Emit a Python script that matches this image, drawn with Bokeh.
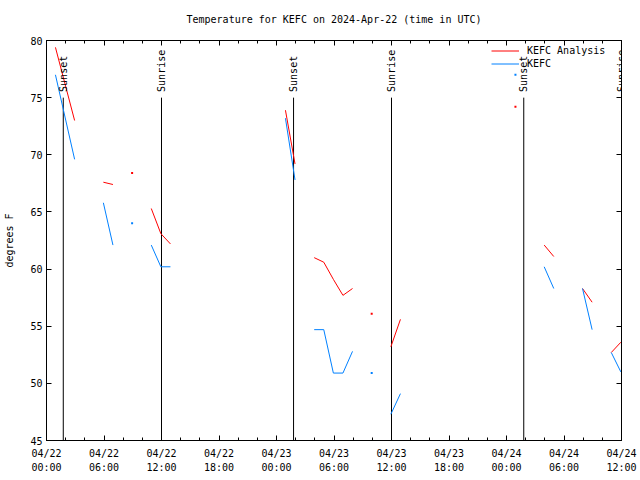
import math
from bokeh.plotting import figure
from bokeh.core.properties import value
from bokeh.models import (ColumnDataSource, FixedTicker, LinearAxis, Range1d,
                          Legend, LegendItem, LabelSet, CustomLabelingPolicy)
from bokeh.embed import file_html
from bokeh.resources import INLINE

nan = float("nan")

# ---- data -------------------------------------------------------------
# hourly observations (hours since 04/22 00:00 UTC), reported at hh:56
obs_hour = list(range(60))
obs_minute = 56

analysis_f = [
    79.4, 76.2, 73.0, nan, nan, 67.6, 67.4, nan, 68.4, nan,
    65.3, 63.1, 62.2, nan, nan, nan, nan, nan, nan, nan,
    nan, nan, nan, nan, 73.9, 69.2, nan, 61.0, 60.6, 59.1,
    57.7, 58.3, nan, 56.1, nan, 53.2, 55.6, nan, nan, nan,
    nan, nan, nan, nan, nan, nan, nan, nan, 74.2, nan,
    nan, 62.1, 61.1, nan, nan, 58.3, 57.1, nan, 52.7, 53.6,
]

kefc_f = [
    77.0, 73.3, 69.6, nan, nan, 65.8, 62.1, nan, 64.0, nan,
    62.1, 60.2, 60.2, nan, nan, nan, nan, nan, nan, nan,
    nan, nan, nan, nan, 73.2, 67.8, nan, 54.7, 54.7, 50.9,
    50.9, 52.8, nan, 50.9, nan, 47.3, 49.1, nan, nan, nan,
    nan, nan, nan, nan, nan, nan, nan, nan, 77.0, nan,
    nan, 60.2, 58.3, nan, nan, 58.3, 54.7, nan, 52.7, 51.0,
]

event_hours = [1.75, 12.0, 25.78, 36.0, 49.8, 60.0]
event_names = ["Sunset", "Sunrise", "Sunset", "Sunrise", "Sunset", "Sunrise"]

x_tick_hours = [0, 6, 12, 18, 24, 30, 36, 42, 48, 54, 60]
x_tick_labels = ["04/22\n00:00", "04/22\n06:00", "04/22\n12:00", "04/22\n18:00",
                 "04/23\n00:00", "04/23\n06:00", "04/23\n12:00", "04/23\n18:00",
                 "04/24\n00:00", "04/24\n06:00", "04/24\n12:00"]
x_minor_hours = list(range(0, 61, 2))
y_ticks = [45, 50, 55, 60, 65, 70, 75, 80]

# ---- build ------------------------------------------------------------
FONT = "DejaVu Sans Mono"
RED = "#ff0000"
BLUE = "#0080ff"

t = [h + obs_minute / 60.0 for h in obs_hour]


def isolated(vals):
    out_x, out_y = [], []
    n = len(vals)
    for i, v in enumerate(vals):
        if math.isnan(v):
            continue
        prev_nan = i == 0 or math.isnan(vals[i - 1])
        next_nan = i == n - 1 or math.isnan(vals[i + 1])
        if prev_nan and next_nan:
            out_x.append(t[i])
            out_y.append(v)
    return out_x, out_y


p = figure(width=640, height=480, output_backend="svg", toolbar_location=None,
           x_range=Range1d(0, 60), y_range=Range1d(45, 80),
           min_border_left=46, min_border_right=19,
           min_border_top=40, min_border_bottom=40,
           background_fill_color="white", border_fill_color="white")

p.title.text = "Temperature for KEFC on 2024-Apr-22 (time in UTC)"
p.title.text_font = FONT
p.title.text_font_size = "10px"
p.title.text_font_style = "normal"
p.title.text_color = "black"
p.title.align = "center"
p.title.standoff = 10

p.xgrid.visible = False
p.ygrid.visible = False
p.outline_line_color = "black"

xt = FixedTicker(ticks=x_tick_hours, minor_ticks=x_minor_hours)
yt = FixedTicker(ticks=y_ticks)


def style_axis(ax):
    ax.axis_line_color = "black"
    ax.major_tick_in = 5
    ax.major_tick_out = 0
    ax.minor_tick_in = 3
    ax.minor_tick_out = 0
    ax.major_tick_line_color = "black"
    ax.minor_tick_line_color = "black"
    ax.major_label_text_font = FONT
    ax.major_label_text_font_size = "10px"
    ax.major_label_text_color = "black"


p.xaxis.ticker = xt
p.xaxis.major_label_overrides = {h: lab for h, lab in zip(x_tick_hours, x_tick_labels)}
p.xaxis.major_label_standoff = 7
p.xaxis.major_label_text_line_height = 1.35
style_axis(p.xaxis[0])

p.yaxis.ticker = yt
p.yaxis.axis_label = "degrees F"
p.yaxis.axis_label_text_font = FONT
p.yaxis.axis_label_text_font_size = "10px"
p.yaxis.axis_label_text_font_style = "normal"
p.yaxis.axis_label_text_color = "black"
p.yaxis.axis_label_standoff = 12
p.yaxis.major_label_standoff = 4
style_axis(p.yaxis[0])
p.yaxis.minor_tick_line_color = None

no_labels = CustomLabelingPolicy(code="return new Set()")

top_ax = LinearAxis(ticker=FixedTicker(ticks=x_tick_hours, minor_ticks=x_minor_hours))
style_axis(top_ax)
top_ax.major_label_policy = no_labels
top_ax.major_label_standoff = 0
p.add_layout(top_ax, "above")

right_ax = LinearAxis(ticker=FixedTicker(ticks=y_ticks))
style_axis(right_ax)
right_ax.major_label_policy = no_labels
right_ax.major_label_standoff = 0
right_ax.minor_tick_line_color = None
p.add_layout(right_ax, "right")

# sunrise / sunset markers
ev = ColumnDataSource(dict(t=event_hours, name=event_names,
                           y0=[45] * len(event_hours), y1=[75] * len(event_hours),
                           ly=[75.5] * len(event_hours)))
p.segment(x0="t", y0="y0", x1="t", y1="y1", source=ev, line_color="black", line_width=1)
p.add_layout(LabelSet(x="t", y="ly", text="name", source=ev, angle=math.pi / 2,
                      text_align="left", text_baseline="middle",
                      text_font=value(FONT), text_font_size=value("10px"),
                      text_color="black"))

# series
src = ColumnDataSource(dict(t=t, a=analysis_f, k=kefc_f))
r_a = p.line("t", "a", source=src, line_color=RED, line_width=1)
r_k = p.line("t", "k", source=src, line_color=BLUE, line_width=1)

ax_, ay_ = isolated(analysis_f)
kx_, ky_ = isolated(kefc_f)
p.scatter(ax_, ay_, marker="square", size=2, fill_color=RED, line_color=None)
p.scatter(kx_, ky_, marker="square", size=2, fill_color=BLUE, line_color=None)

legend = Legend(items=[LegendItem(label="KEFC Analysis", renderers=[r_a]),
                       LegendItem(label="KEFC", renderers=[r_k])],
                location=(445, 370), background_fill_alpha=0,
                border_line_color=None, label_text_font=FONT,
                label_text_font_size="10px", label_text_color="black",
                glyph_width=28, glyph_height=13,
                label_height=13, spacing=0, padding=2, margin=0,
                label_standoff=8)
p.add_layout(legend)

open("out.html", "w").write(file_html(p, INLINE))
